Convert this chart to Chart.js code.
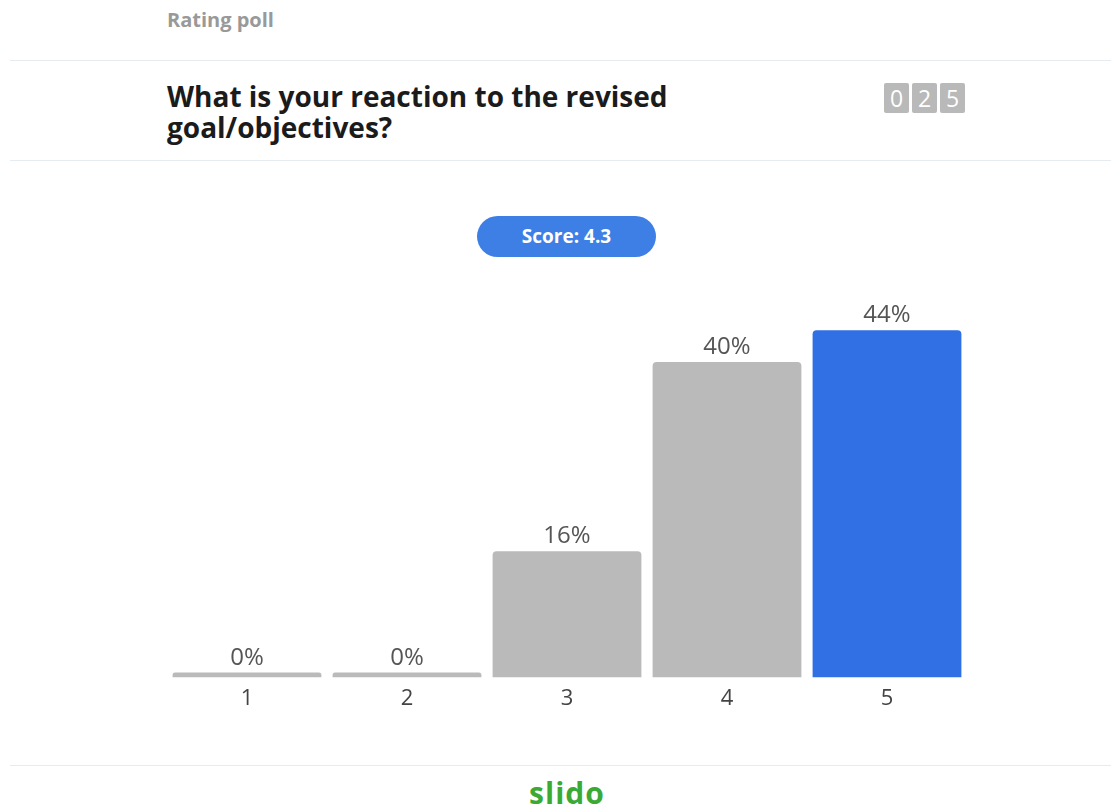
<!DOCTYPE html>
<html>
<head>
<meta charset="utf-8">
<script src="https://cdn.jsdelivr.net/npm/chart.js@4.4.1/dist/chart.umd.min.js"></script>
<style>
  html, body { margin: 0; padding: 0; background: #fff; }
  body { width: 1111px; height: 807px; position: relative; overflow: hidden; font-family: "Open Sans", sans-serif; }
  .kind { position: absolute; left: 167px; top: 6px; font-size: 20px; font-weight: 700; color: #999999; }
  .rule { position: absolute; left: 10px; right: 0; height: 1px; background: #e6ebf0; }
  .question { position: absolute; left: 167px; top: 81px; width: 620px; font-size: 28px; font-weight: 700; line-height: 31px; color: #1b1b1b; }
  .counter { position: absolute; left: 884px; top: 83px; display: flex; gap: 3px; }
  .counter span { width: 25px; height: 30px; background: #b9b9b9; border-radius: 2px; color: #fff; font-size: 23px; line-height: 30px; text-align: center; }
  .score { position: absolute; left: 477px; top: 216px; width: 179px; height: 41px; border-radius: 21px; background: #3e7fe6; color: #fff; font-size: 19px; font-weight: 700; line-height: 41px; text-align: center; }
  .brand { position: absolute; left: 167px; width: 800px; top: 772px; text-align: center; font-family: "Open Sans", sans-serif; font-size: 30px; font-weight: 700; color: #3aaa35; letter-spacing: 1px; }
  #wrap { position: absolute; left: 167px; top: 283px; width: 800px; height: 443px; }
</style>
</head>
<body>
<div class="kind">Rating poll</div>
<div class="rule" style="top:60px"></div>
<div class="question">What is your reaction to the revised goal/objectives?</div>
<div class="counter"><span>0</span><span>2</span><span>5</span></div>
<div class="rule" style="top:160px"></div>
<div class="score">Score: 4.3</div>
<div class="rule" style="top:765px"></div>
<div class="brand">slido</div>
<div id="wrap"><canvas id="myCanvas"></canvas></div>

<script>
const ratings = ["1", "2", "3", "4", "5"];
const shares = [0, 0, 16, 40, 44];
const barColors = ["#bababa", "#bababa", "#bababa", "#bababa", "#316fe5"];

// writes the percentage above every bar
const shareLabels = {
  id: "shareLabels",
  afterDatasetsDraw(chart) {
    const ctx = chart.ctx;
    const meta = chart.getDatasetMeta(0);
    ctx.save();
    ctx.font = "24px 'Open Sans', sans-serif";
    ctx.fillStyle = "#555555";
    ctx.textAlign = "center";
    ctx.textBaseline = "alphabetic";
    meta.data.forEach((bar, i) => {
      ctx.fillText(shares[i] + "%", bar.x, bar.y - 8);
    });
    ctx.restore();
  }
};

const ctx = document.getElementById("myCanvas").getContext("2d");
new Chart(ctx, {
  type: "bar",
  data: {
    labels: ratings,
    datasets: [{
      data: shares,
      backgroundColor: barColors,
      borderRadius: { topLeft: 4, topRight: 4 },
      borderSkipped: "start",
      minBarLength: 5,
      barPercentage: 0.93,
      categoryPercentage: 1.0
    }]
  },
  options: {
    responsive: true,
    maintainAspectRatio: false,
    animation: false,
    layout: { padding: { top: 0, bottom: 14, left: 0, right: 0 } },
    plugins: { legend: { display: false }, tooltip: { enabled: false } },
    scales: {
      x: {
        grid: { display: false },
        border: { display: false },
        ticks: { color: "#444444", font: { family: "'Open Sans', sans-serif", size: 22 }, padding: 0 }
      },
      y: {
        display: false,
        min: 0,
        max: 50
      }
    }
  },
  plugins: [shareLabels]
});
</script>
</body>
</html>
